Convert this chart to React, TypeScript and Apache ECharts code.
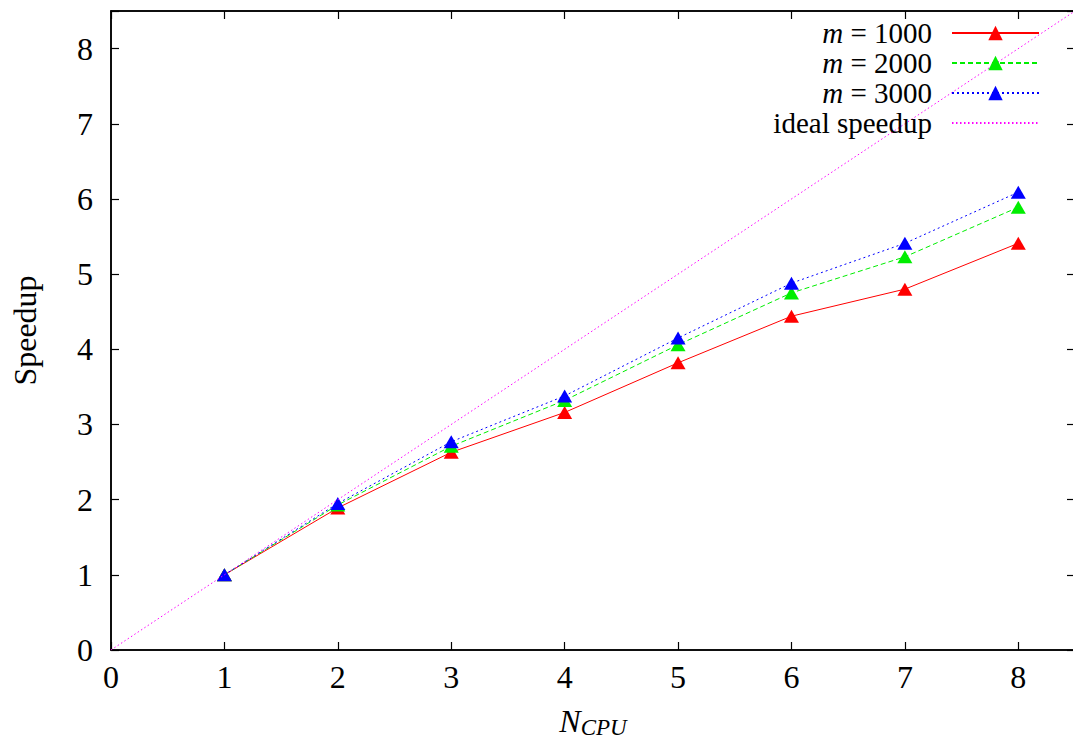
import React, { useEffect, useRef } from "react";
import * as echarts from "echarts";

const nCpu = [1, 2, 3, 4, 5, 6, 7, 8];
const speedup1000 = [1.0, 1.89, 2.63, 3.16, 3.82, 4.44, 4.8, 5.41];
const speedup2000 = [1.0, 1.93, 2.71, 3.32, 4.06, 4.75, 5.23, 5.89];
const speedup3000 = [1.0, 1.95, 2.77, 3.38, 4.15, 4.88, 5.41, 6.09];
const idealX = [0, 8.5];
const seriesNames = ["m = 1000", "m = 2000", "m = 3000", "ideal speedup"];
const xTicks = [0, 1, 2, 3, 4, 5, 6, 7, 8];
const yTicks = [0, 1, 2, 3, 4, 5, 6, 7, 8];

const FONT = "'Liberation Serif', 'DejaVu Serif', serif";
const FS = 32;
const LFS = 29;

export default function App() {
  const ref = useRef<HTMLDivElement>(null);
  useEffect(() => {
    if (!ref.current) return;
    const chart = echarts.init(ref.current, null, { renderer: "svg" });
    const pairs = (ys: number[]) => nCpu.map((x, i) => [x, ys[i]]);
    const axisCommon = {
      type: "value" as const,
      min: 0,
      max: 8.5,
      interval: 1,
      splitLine: { show: false },
      axisLine: { show: true, onZero: false, lineStyle: { color: "#000", width: 1.5 } },
      axisTick: { show: true, inside: true, length: 8, lineStyle: { color: "#000", width: 1.2 } },
    };
    const labelFmt = (v: number) => (xTicks.includes(v) ? String(v) : "");
    const ylabelFmt = (v: number) => (yTicks.includes(v) ? String(v) : "");
    const lineSeries = (name: string, data: number[][], color: string, type: any) => ({
      name,
      type: "line",
      data,
      symbol: "triangle",
      symbolSize: [15, 13],
      itemStyle: { color },
      lineStyle: { color, width: 1, type },
      z: 2,
    });
    chart.setOption({
      animation: false,
      backgroundColor: "#fff",
      grid: {
        left: 111,
        top: 11,
        right: -2,
        bottom: 93,
        containLabel: false,
        outerBoundsMode: "none",
        show: true,
        borderColor: "#000",
        borderWidth: 1.5,
        backgroundColor: "transparent",
      },
      xAxis: [
        {
          ...axisCommon,
          position: "bottom",
          axisLabel: {
            formatter: labelFmt,
            fontFamily: FONT,
            fontSize: FS,
            color: "#000",
            margin: 11,
          },
          name: "{n|N}{s|CPU}",
          nameLocation: "middle",
          nameGap: 52,
          nameTextStyle: {
            rich: {
              n: { fontFamily: FONT, fontSize: FS, fontStyle: "italic", color: "#000" },
              s: { fontFamily: FONT, fontSize: 23, fontStyle: "italic", color: "#000", padding: [14, 0, 0, 0] },
            },
          },
        },
        {
          ...axisCommon,
          position: "top",
          axisLabel: { show: false },
        },
      ],
      yAxis: [
        {
          ...axisCommon,
          position: "left",
          axisLabel: {
            formatter: ylabelFmt,
            fontFamily: FONT,
            fontSize: FS,
            color: "#000",
            margin: 18,
          },
          name: "Speedup",
          nameLocation: "middle",
          nameGap: 70,
          nameTextStyle: { fontFamily: FONT, fontSize: FS, color: "#000" },
        },
        {
          ...axisCommon,
          position: "right",
          axisLabel: { show: false },
        },
      ],
      legend: {
        orient: "vertical",
        align: "right",
        right: 33,
        top: 18,
        padding: 0,
        itemGap: 0,
        itemWidth: 87,
        itemHeight: 18,
        data: [
          seriesNames[0],
          seriesNames[1],
          seriesNames[2],
          { name: seriesNames[3], itemStyle: { opacity: 0, borderWidth: 0 } },
        ],
        formatter: (name: string) =>
          name.startsWith("m = ") ? "{i|m}{t|" + name.slice(1) + "}" : "{t|" + name + "}",
        textStyle: {
          fontFamily: FONT,
          fontSize: LFS,
          color: "#000",
          lineHeight: 30,
          padding: [0, 15, 0, 0],
          rich: {
            i: { fontFamily: FONT, fontSize: LFS, fontStyle: "italic", color: "#000", lineHeight: 30 },
            t: { fontFamily: FONT, fontSize: LFS, color: "#000", lineHeight: 30 },
          },
        },
      },
      series: [
        lineSeries(seriesNames[0], pairs(speedup1000), "#ff0000", "solid"),
        lineSeries(seriesNames[1], pairs(speedup2000), "#00ee00", [5, 3]),
        lineSeries(seriesNames[2], pairs(speedup3000), "#0000ff", [2, 3]),
        {
          name: seriesNames[3],
          type: "line",
          data: idealX.map((x) => [x, x]),
          symbol: "none",
          itemStyle: { color: "#ff00ff" },
          lineStyle: { color: "#ff00ff", width: 1, type: [1.5, 2.5] },
          z: 3,
        },
      ],
    });
    return () => chart.dispose();
  }, []);
  return (
    <div
      ref={ref}
      style={{ position: "fixed", left: 0, top: 0, width: 1073, height: 743, background: "#fff" }}
    />
  );
}
